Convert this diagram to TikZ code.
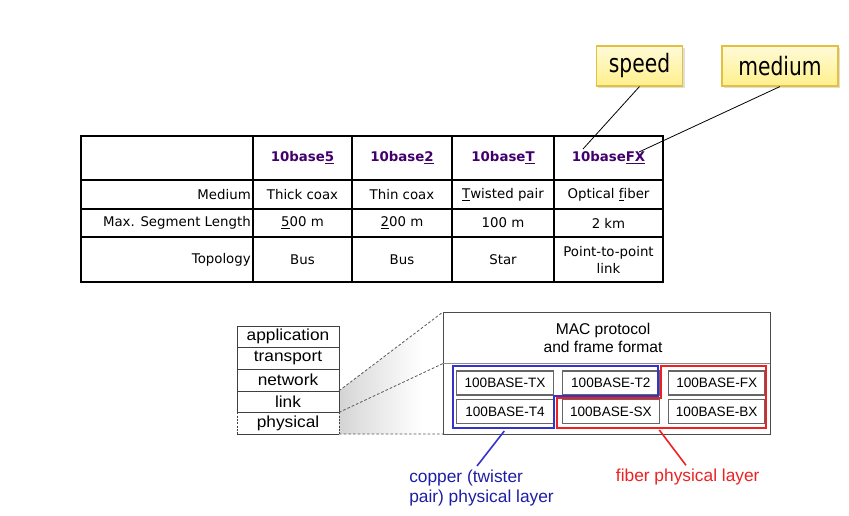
\documentclass[tikz,border=0pt]{standalone}
\usepackage{fontspec}
\setmainfont{DejaVu Sans}
\newfontfamily\calfont{DejaVu Sans}[FakeStretch=0.8]
\newfontfamily\arfont{Liberation Sans}
\newfontfamily\arwide{Liberation Sans}[FakeStretch=1.08]
\usetikzlibrary{shapes, arrows, positioning, shadows, backgrounds}
\definecolor{headpurple}{RGB}{66,0,108}
\definecolor{callfill}{RGB}{255,240,140}
\definecolor{callline}{RGB}{228,192,64}
\definecolor{copperline}{RGB}{52,52,205}
\definecolor{coppertext}{RGB}{30,30,165}
\definecolor{fiberred}{RGB}{236,34,34}
\pgfdeclarehorizontalshading{zoomfade}{100bp}{color(0bp)=(black!30); color(35bp)=(black!12); color(65bp)=(white); color(100bp)=(white)}

\begin{document}
\begin{tikzpicture}[x=0.75pt, y=-0.75pt,
            cell/.style={font=\fontsize{10}{12.5}\selectfont, inner sep=0pt, align=center},
            head/.style={cell, font=\bfseries\fontsize{10}{12.5}\selectfont, text=headpurple},
            rowname/.style={cell, anchor=east},
            tabline/.style={line width=1pt},
            callout/.style={draw=callline, line width=0.8pt, top color=callfill!35, bottom color=callfill, minimum height=30pt, font=\calfont\fontsize{19}{22}\selectfont, drop shadow={opacity=0.25, shadow xshift=1.5pt, shadow yshift=-1.5pt}},
            layer/.style={draw=black!75, minimum width=76.5pt, minimum height=16.2pt, inner sep=0pt, outer sep=0pt, font=\arwide\fontsize{12}{14}\selectfont},
            phybox/.style={draw=black!60, line width=0.9pt, minimum width=72.5pt, minimum height=18pt, inner sep=0pt, font=\arfont\fontsize{10.2}{12}\selectfont},
            zoomline/.style={black!65, dash pattern=on 2pt off 1.5pt, line width=0.6pt},
            lbl/.style={inner sep=0pt, align=left, font=\arfont\fontsize{13}{15}\selectfont},
            node distance=6pt
        ]
            \useasboundingbox (0,0) rectangle (849,516);

            \foreach \cx in {253,352,452,554}
                \draw[tabline] (\cx,136) -- (\cx,282);
            \foreach \ry in {180,209,237}
                \draw[tabline] (81,\ry) -- (663,\ry);
            \draw[line width=2.2pt] (81,136) rectangle (663,282);

            \node[head] (h5) at (302.5,158) {10base\underline{5}};
            \node[head] (h2) at (402,158) {10base\underline{2}};
            \node[head] (ht) at (503,158) {10base\underline{T}};
            \node[head] (hfx) at (608.5,158) {10base\underline{FX}};

            \node[rowname] (rmed) at (251,194.5) {Medium};
            \node[rowname] (rlen) at (251,223) {Max. Segment Length};
            \node[rowname] (rtop) at (251,259.5) {Topology};

            \node[cell] (m5) at (302.5,194.5) {Thick coax};
            \node[cell] (m2) at (402,194.5) {Thin coax};
            \node[cell] (mt) at (503,194.5) {\underline{T}wisted pair};
            \node[cell] (mfx) at (608.5,194.5) {Optical \underline{f}iber};
            \node[cell] (l5) at (302.5,223) {\underline{5}00 m};
            \node[cell] (l2) at (402,223) {\underline{2}00 m};
            \node[cell] (lt) at (503,223) {100 m};
            \node[cell] (lfx) at (608.5,223) {2 km};
            \node[cell] (t5) at (302.5,259.5) {Bus};
            \node[cell] (t2bus) at (402,259.5) {Bus};
            \node[cell] (tt) at (503,259.5) {Star};
            \node[cell] (tfx) at (608.5,260) {Point-to-point\\link};

            \node[callout, minimum width=65pt] (speed) at (639.5,66) {speed};
            \node[callout, minimum width=87pt] (medium) at (780,66) {medium};
            \coordinate (spdend) at (583,149);
            \coordinate (medend) at (639,152);
            \draw[line width=0.6pt] (speed.south) -- (spdend);
            \draw[line width=0.6pt] (medium.south) -- (medend);

            \node[layer] (app) at (288,336.8) {application};
            \node[layer, below=0pt of app] (trn) {transport};
            \node[layer, below=0pt of trn] (net) {network};
            \node[layer, below=0pt of net] (lnk) {link};
            \node[layer, draw=none, below=0pt of lnk] (phy) {physical};
            \draw[black!75, dash pattern=on 1.5pt off 1pt] (phy.north west) -- (phy.south west) (phy.north east) -- (phy.south east);
            \draw[black!75] (phy.south west) -- (phy.south east);

            \node[draw=black!70, minimum width=245.25pt, minimum height=91.5pt, anchor=north west, inner sep=0pt, outer sep=0pt] (big) at (443,312) {};
            \coordinate (sepl) at (443,363.5);
            \coordinate (sepr) at (770,363.5);
            \draw[black!45] (sepl) -- (sepr);
            \node[font=\arfont\fontsize{11.7}{14}\selectfont, align=center] (mac) at (603,338) {MAC protocol\\and frame format};

            \begin{scope}[on background layer]
                \shade[shading=zoomfade] (lnk.north east) -- (big.north west) -- (big.south west) -- (phy.south east) -- cycle;
            \end{scope}
            \draw[zoomline] (lnk.north east) -- (big.north west);
            \draw[zoomline] (lnk.south east) -- (sepl);
            \draw[zoomline] (phy.south east) -- (big.south west);

            \node[phybox] (tx) at (505,383) {100BASE-TX};
            \node[phybox, right=6pt of tx] (t2) {100BASE-T2};
            \node[phybox, right=6pt of t2] (fx) {100BASE-FX};
            \node[phybox, below=2.6pt of tx] (t4) {100BASE-T4};
            \node[phybox, below=2.6pt of t2] (sx) {100BASE-SX};
            \node[phybox, below=2.6pt of fx] (bx) {100BASE-BX};

            \draw[copperline, line width=1.5pt] (452.7,366.3) -- (658.3,366.3) -- (658.3,396) -- (554.3,396) -- (554.3,427.7) -- (452.7,427.7) -- cycle;
            \draw[fiberred, line width=1.5pt] (660.5,366.3) -- (766,366.3) -- (766,427.5) -- (556.5,427.5) -- (556.5,398) -- (660.5,398) -- cycle;

            \node[lbl, text=coppertext, anchor=north west] (cu) at (409,470) {copper (twister\\pair) physical layer};
            \node[lbl, text=fiberred, anchor=base west] (fib) at (615.7,481.7) {fiber physical layer};
            \coordinate (cutop) at (504.3,431);
            \coordinate (cuend) at (477,466);
            \coordinate (fibtop) at (659.3,430);
            \coordinate (fibend) at (686,465.3);
            \draw[copperline, line width=1.2pt] (cutop) -- (cuend);
            \draw[fiberred, line width=1.2pt] (fibtop) -- (fibend);
        \end{tikzpicture}
\end{document}
